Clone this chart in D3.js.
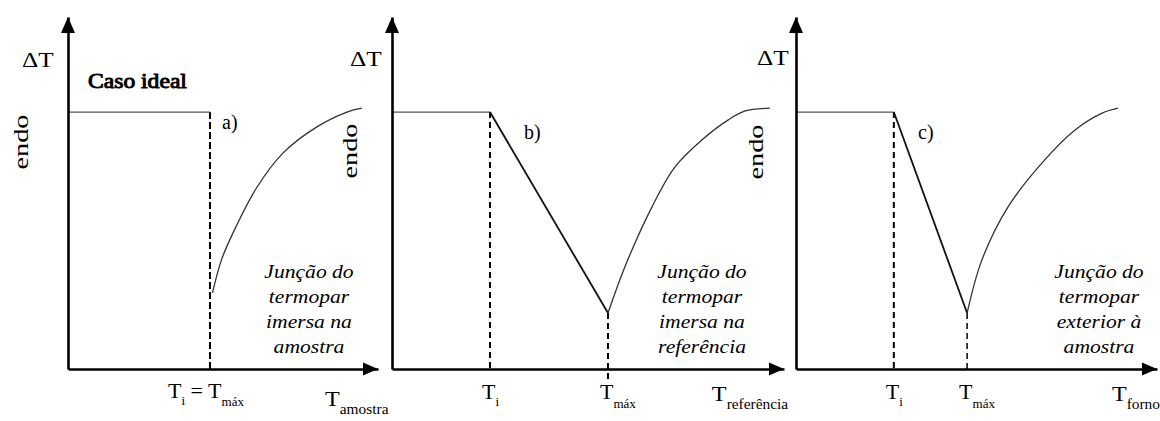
<!DOCTYPE html>
<html>
<head>
<meta charset="utf-8">
<script src="https://cdn.jsdelivr.net/npm/d3@7"></script>
<style>
  html, body { margin: 0; padding: 0; background: #fff; }
  svg { display: block; }
</style>
</head>
<body>
<div id="chart"></div>
<script>
// DTA curve shapes for three thermocouple positions (schematic, arbitrary units)
const panelIds = ["a", "b", "c"];
const panelTags = ["a)", "b)", "c)"];
const axisTitles = ["amostra", "referência", "forno"];
const notes = [
  ["Junção do", "termopar", "imersa na", "amostra"],
  ["Junção do", "termopar", "imersa na", "referência"],
  ["Junção do", "termopar", "exterior à", "amostra"]
];

// temperature (0–100 along each axis) and ΔT (0–100 along the vertical axis)
const baselineDT = 73;
const onsetT = [45.8, 25.0, 27.1];
const peakT = [45.8, 55.1, 47.4];
const peakDT = [21.6, 15.9, 15.9];

const recoveryT_a = [46.6, 49.5, 53.2, 61.0, 69.4, 80.3, 90.0, 94.8];
const recoveryDT_a = [21.6, 31.0, 38.6, 51.7, 61.4, 68.8, 73.0, 74.1];
const recoveryT_b = [55.1, 59.4, 66.3, 72.2, 79.1, 85.7, 90.1, 96.4];
const recoveryDT_b = [15.9, 29.0, 46.0, 57.4, 65.1, 70.7, 73.3, 74.1];
const recoveryT_c = [47.4, 51.5, 58.7, 68.1, 77.3, 84.8, 89.2];
const recoveryDT_c = [15.9, 31.0, 46.0, 58.5, 67.9, 72.7, 74.1];

const recoveryT = [recoveryT_a, recoveryT_b, recoveryT_c];
const recoveryDT = [recoveryDT_a, recoveryDT_b, recoveryDT_c];

// ---- layout ----
const W = 1160, H = 421;
const serif = '"Liberation Serif", "Times New Roman", Times, serif';
const panelRange = [[68, 378], [392, 784], [796, 1157]];
const axisTitleT = [82.9, 81.6, 87.5];
const noteCenter = [309, 702, 1099];
const tagPos = [[222, 129], [524, 139], [918, 139]];
const deltaPos = [[22, 67], [350, 66], [757, 65]];
const endoPos = [[28, 142], [357, 151], [763, 152]];

const svg = d3.select("#chart").append("svg")
  .attr("width", W).attr("height", H)
  .style("font-family", serif);

const y = d3.scaleLinear().domain([0, 100]).range([369, 17]);

function richText(parent, x, yy, runs, opts = {}) {
  const t = parent.append("text")
    .attr("transform", `translate(${x},${yy}) scale(${opts.sx || 1},1)`)
    .attr("text-anchor", opts.anchor || "start")
    .style("font-family", serif)
    .attr("fill", "#000");
  if (opts.style) t.attr("font-style", opts.style);
  if (opts.heavy) t.attr("stroke", "#000").attr("stroke-width", opts.heavy);
  let cur = 0;
  runs.forEach(r => {
    const d = r.dy || 0;
    t.append("tspan").attr("font-size", r.size).attr("dy", d - cur).text(r.t);
    cur = d;
  });
  return t;
}

panelIds.forEach((id, i) => {
  const g = svg.append("g").attr("class", "panel-" + id);
  const x = d3.scaleLinear().domain([0, 100]).range(panelRange[i]);
  const x0 = x(0), xEnd = x(100);

  // dashed guides at onset and peak temperatures
  const guide = g.append("g").attr("stroke", "#000").attr("fill", "none");
  guide.append("line")
    .attr("x1", x(onsetT[i])).attr("x2", x(onsetT[i]))
    .attr("y1", y(baselineDT)).attr("y2", y(0))
    .attr("stroke-width", 2).attr("stroke-dasharray", i === 0 ? "7,3" : "6,4");
  if (peakT[i] !== onsetT[i]) {
    guide.append("line")
      .attr("x1", x(peakT[i])).attr("x2", x(peakT[i]))
      .attr("y1", y(peakDT[i])).attr("y2", i === 1 ? y(0) + 12 : y(0))
      .attr("stroke-width", i === 1 ? 2 : 1.5).attr("stroke-dasharray", "6,4");
  }

  // baseline before the event
  const line = d3.line().x(d => x(d[0])).y(d => y(d[1]));
  g.append("path")
    .datum([[0, baselineDT], [onsetT[i], baselineDT]])
    .attr("d", line)
    .attr("fill", "none").attr("stroke", "#555").attr("stroke-width", 1.2);

  // descent to the peak
  if (peakT[i] !== onsetT[i]) {
    g.append("path")
      .datum([[onsetT[i], baselineDT], [peakT[i], peakDT[i]]])
      .attr("d", line)
      .attr("fill", "none").attr("stroke", "#111").attr("stroke-width", 1.8);
  }

  // return to baseline
  const rec = recoveryT[i].map((t, k) => [t, recoveryDT[i][k]]);
  g.append("path")
    .datum(rec)
    .attr("d", d3.line().x(d => x(d[0])).y(d => y(d[1])).curve(d3.curveCatmullRom.alpha(0.5)))
    .attr("fill", "none").attr("stroke", "#333").attr("stroke-width", 1.3);

  // axes (no ticks) with arrowheads
  const xAxis = d3.axisBottom(x).tickValues([]).tickSizeOuter(0);
  const yAxis = d3.axisLeft(y).tickValues([]).tickSizeOuter(0);
  g.append("g").attr("transform", `translate(0,${y(0)})`).call(xAxis)
    .select(".domain").attr("stroke", "#000").attr("stroke-width", 2.6);
  g.append("g").attr("transform", `translate(${x0},0)`).call(yAxis)
    .select(".domain").attr("stroke", "#000").attr("stroke-width", 2.6);
  g.append("path")
    .attr("d", `M${xEnd},${y(0)} L${xEnd - 15},${y(0) - 6.5} L${xEnd - 15},${y(0) + 6.5} Z`)
    .attr("fill", "#000");
  g.append("path")
    .attr("d", `M${x0},${y(100)} L${x0 - 7},${y(100) + 16} L${x0 + 7},${y(100) + 16} Z`)
    .attr("fill", "#000");

  // ΔT and endo
  richText(g, deltaPos[i][0], deltaPos[i][1], [{ t: "ΔT", size: 22 }], { sx: 1.15 });
  g.append("text")
    .attr("transform", `translate(${endoPos[i][0]},${endoPos[i][1]}) rotate(-90)`)
    .attr("text-anchor", "middle")
    .style("font-family", serif)
    .attr("font-size", 22)
    .attr("textLength", 55).attr("lengthAdjust", "spacingAndGlyphs")
    .text("endo");

  // panel tag
  g.append("text")
    .attr("x", tagPos[i][0]).attr("y", tagPos[i][1])
    .style("font-family", serif)
    .attr("font-size", 20).text(panelTags[i]);

  // note in italics
  notes[i].forEach((s, k) => {
    richText(g, noteCenter[i], 278 + k * 25, [{ t: s, size: 18 }],
      { anchor: "middle", sx: 1.2, style: "italic" });
  });

  // temperature labels under the axis
  if (i === 0) {
    richText(g, x(onsetT[i]) - 4, 398, [
      { t: "T", size: 22 }, { t: "i", size: 13, dy: 7 },
      { t: " = T", size: 22, dy: 0 }, { t: "máx", size: 13, dy: 8 }
    ], { anchor: "middle" });
  } else {
    richText(g, x(onsetT[i]) - 8, 399, [
      { t: "T", size: 22 }, { t: "i", size: 13, dy: 7 }
    ]);
    richText(g, x(peakT[i]) - 8, 399, [
      { t: "T", size: 22 }, { t: "máx", size: 13, dy: 9 }
    ]);
  }
  richText(g, x(axisTitleT[i]), i === 0 ? 406 : 401, [
    { t: "T", size: 22 }, { t: axisTitles[i], size: 14, dy: 8 }
  ], { sx: 1.1 });
});

// title of the first panel
richText(svg, 88, 88, [{ t: "Caso ideal", size: 20 }], { heavy: 0.9, sx: 1.18 });
</script>
</body>
</html>
